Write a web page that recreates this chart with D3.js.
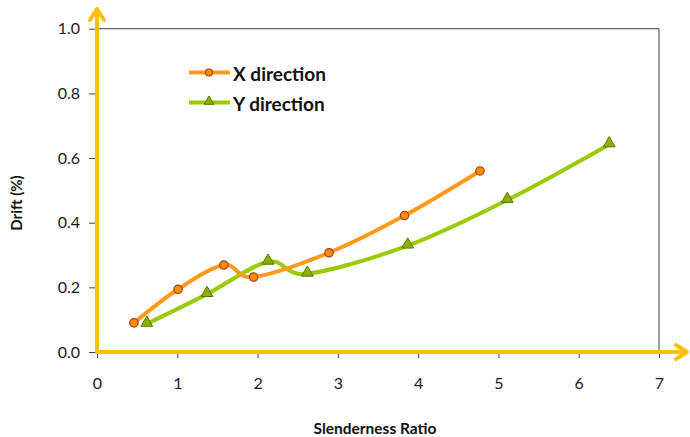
<!DOCTYPE html>
<html>
<head>
<meta charset="utf-8">
<script src="https://cdn.jsdelivr.net/npm/d3@7"></script>
<style>
html,body{margin:0;padding:0;background:#fff;}
svg{display:block;}
text{font-family:Lato,"Open Sans",sans-serif;}
</style>
</head>
<body>
<div id="chart"></div>
<script>
// Data
const xDirRatio = [0.46, 1.01, 1.58, 1.95, 2.89, 3.83, 4.77];
const xDirDrift = [0.090, 0.194, 0.269, 0.232, 0.307, 0.422, 0.560];
const yDirRatio = [0.62, 1.37, 2.13, 2.62, 3.87, 5.11, 6.38];
const yDirDrift = [0.087, 0.179, 0.279, 0.242, 0.329, 0.470, 0.642];
const xTicks = [0, 1, 2, 3, 4, 5, 6, 7];
const yTicks = [0, 0.2, 0.4, 0.6, 0.8, 1.0];
const seriesNames = ["X direction", "Y direction"];

const W = 690, H = 437;
const svg = d3.select("#chart").append("svg").attr("width", W).attr("height", H);

const x = d3.scaleLinear().domain([0, 7]).range([97, 659]);
const y = d3.scaleLinear().domain([0, 1]).range([352, 28.7]);

const yellow = "#FFC000";
const orange = "#FF9A1A";
const green = "#99CC00";

// frame (top and right)
svg.append("line").attr("x1", x(0)).attr("x2", x(7)).attr("y1", y(1)).attr("y2", y(1))
  .attr("stroke", "#404040").attr("stroke-width", 1);
svg.append("line").attr("x1", x(7)).attr("x2", x(7)).attr("y1", y(1)).attr("y2", y(0))
  .attr("stroke", "#404040").attr("stroke-width", 1);

// y axis ticks and labels
const yAxis = d3.axisLeft(y).tickValues(yTicks).tickFormat(d3.format(".1f")).tickSize(6).tickPadding(9);
const gy = svg.append("g").attr("transform", `translate(${x(0) - 2},0)`).call(yAxis);
gy.select(".domain").remove();
gy.selectAll(".tick line").attr("stroke", "#404040");
gy.selectAll(".tick text").attr("font-size", 16).attr("fill", "#1a1a1a").attr("font-family", "Lato, sans-serif");

// x axis ticks and labels
const xAxis = d3.axisBottom(x).tickValues(xTicks).tickFormat(d3.format("d")).tickSize(6).tickPadding(20);
const gx = svg.append("g").attr("transform", `translate(0,${y(0)})`).call(xAxis);
gx.select(".domain").remove();
gx.selectAll(".tick line").attr("stroke", "#404040");
gx.selectAll(".tick text").attr("font-size", 16).attr("fill", "#1a1a1a").attr("font-family", "Lato, sans-serif");

// yellow axes with arrows
svg.append("line").attr("x1", x(0)).attr("x2", x(0)).attr("y1", y(0) + 2).attr("y2", 9)
  .attr("stroke", yellow).attr("stroke-width", 4);
svg.append("path").attr("d", `M${x(0) - 7},20 L${x(0)},9 L${x(0) + 7},20`)
  .attr("fill", "none").attr("stroke", yellow).attr("stroke-width", 4).attr("stroke-linecap", "round").attr("stroke-linejoin", "round");
svg.append("line").attr("x1", x(0) - 2).attr("x2", 687).attr("y1", y(0)).attr("y2", y(0))
  .attr("stroke", yellow).attr("stroke-width", 4);
svg.append("path").attr("d", `M676,${y(0) - 7} L687,${y(0)} L676,${y(0) + 7}`)
  .attr("fill", "none").attr("stroke", yellow).attr("stroke-width", 4).attr("stroke-linecap", "round").attr("stroke-linejoin", "round");

// lines
const line = d3.line().x(d => x(d[0])).y(d => y(d[1])).curve(d3.curveCatmullRom.alpha(0));
const xData = xDirRatio.map((r, i) => [r, xDirDrift[i]]);
const yData = yDirRatio.map((r, i) => [r, yDirDrift[i]]);

svg.append("path").datum(yData).attr("d", line).attr("fill", "none")
  .attr("stroke", green).attr("stroke-width", 4).attr("stroke-linecap", "round");
svg.append("path").datum(xData).attr("d", line).attr("fill", "none")
  .attr("stroke", orange).attr("stroke-width", 4).attr("stroke-linecap", "round");

const tri = d3.symbol().type(d3.symbolTriangle).size(60);
svg.selectAll(".ymark").data(yData).enter().append("path")
  .attr("transform", d => `translate(${x(d[0])},${y(d[1]) - 1})`)
  .attr("d", tri).attr("fill", "#8CB000").attr("stroke", "#5E7000").attr("stroke-width", 1);
svg.selectAll(".xmark").data(xData).enter().append("circle")
  .attr("cx", d => x(d[0])).attr("cy", d => y(d[1])).attr("r", 4.2)
  .attr("fill", "#FF8C00").attr("stroke", "#A0401A").attr("stroke-width", 1.2);

// legend
const lg = svg.append("g");
lg.append("line").attr("x1", 189).attr("x2", 230).attr("y1", 72.5).attr("y2", 72.5)
  .attr("stroke", orange).attr("stroke-width", 4);
lg.append("circle").attr("cx", 209).attr("cy", 72.5).attr("r", 3.5)
  .attr("fill", "#FF8C00").attr("stroke", "#A0401A").attr("stroke-width", 1.2);
lg.append("text").attr("x", 233).attr("y", 80.5).text(seriesNames[0])
  .attr("font-size", 19).attr("font-weight", "bold").attr("fill", "#111");
lg.append("line").attr("x1", 189).attr("x2", 230).attr("y1", 102.5).attr("y2", 102.5)
  .attr("stroke", green).attr("stroke-width", 4);
lg.append("path").attr("transform", "translate(209,101.5)").attr("d", d3.symbol().type(d3.symbolTriangle).size(40))
  .attr("fill", "#8CB000").attr("stroke", "#5E7000").attr("stroke-width", 1);
lg.append("text").attr("x", 233).attr("y", 110.5).text(seriesNames[1])
  .attr("font-size", 19).attr("font-weight", "bold").attr("fill", "#111");

// axis titles
svg.append("text").attr("x", 375).attr("y", 434).attr("text-anchor", "middle")
  .attr("font-size", 15.5).attr("font-weight", "bold").attr("fill", "#111").text("Slenderness Ratio");
svg.append("text").attr("transform", "translate(22,203) rotate(-90)").attr("text-anchor", "middle")
  .attr("font-size", 15).attr("font-weight", "bold").attr("fill", "#111").text("Drift (%)");
</script>
</body>
</html>
